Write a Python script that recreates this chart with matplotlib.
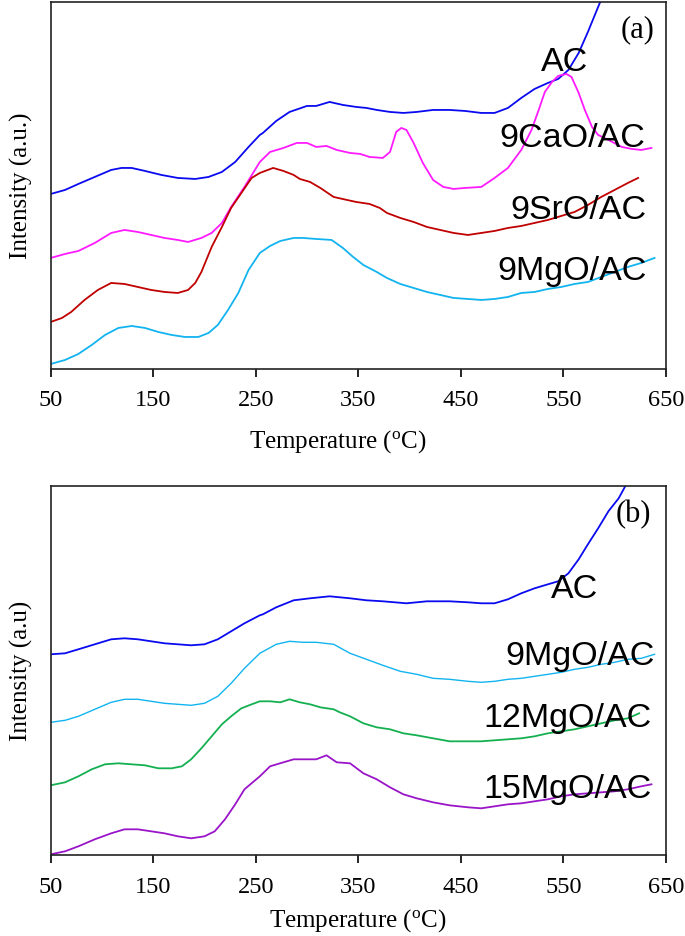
import matplotlib
matplotlib.use("Agg")
import matplotlib.pyplot as plt

# ---- panel (a) data: temperature (C) vs intensity (a.u., offset traces) ----
t_ac_a = [50, 64, 77, 93, 109, 119, 129, 142, 158, 174, 191, 204, 217, 230, 243, 254,
          257, 270, 283, 300, 309, 322, 335, 348, 358, 368, 381, 394, 407, 423, 439, 454,
          470, 483, 496, 509, 522, 535, 545, 555, 565, 574, 586, 590]
y_ac_a = [175, 179, 185, 192, 199, 201, 201, 198, 194, 191, 190, 192, 197, 207, 222, 234,
          236, 248, 257, 263, 263, 267, 264, 262, 261, 259, 257, 256, 257, 259, 259, 258,
          256, 256, 261, 271, 280, 286, 290, 299, 316, 337, 367, 380]

t_cao_a = [50, 64, 77, 93, 109, 122, 135, 148, 161, 174, 184, 197, 207, 217, 226, 239, 254,
           264, 277, 290, 300, 309, 319, 329, 342, 352, 361, 374, 381, 387, 392, 397, 404,
           413, 423, 433, 443, 454, 470, 483, 496, 509, 519, 526, 532, 539, 545, 553, 558,
           565, 571, 578, 584, 594, 607, 617, 626, 636]
y_cao_a = [111, 115, 118, 126, 136, 139, 137, 134, 131, 129, 127, 131, 136, 146, 162, 182, 207,
           217, 221, 226, 226, 222, 223, 219, 216, 215, 212, 211, 217, 237, 241, 239, 226,
           206, 189, 182, 180, 181, 182, 191, 201, 219, 239, 259, 277, 287, 293, 295, 292,
           276, 259, 242, 234, 229, 222, 220, 219, 221]

t_sro_a = [50, 61, 70, 83, 96, 109, 122, 135, 148, 161, 174, 184, 191, 197, 207, 217, 226,
           236, 246, 254, 267, 277, 287, 293, 303, 313, 326, 339, 348, 361, 371, 378, 391,
           404, 417, 430, 443, 457, 470, 483, 496, 509, 522, 535, 548, 561, 574, 587, 600,
           613, 623]
y_sro_a = [47, 51, 57, 69, 79, 86, 85, 82, 79, 77, 76, 79, 86, 97, 122, 142, 161,
           176, 191, 196, 201, 198, 194, 190, 187, 181, 172, 169, 167, 165, 161, 156, 151,
           147, 142, 139, 136, 134, 136, 138, 141, 143, 146, 149, 153, 157, 164, 172, 179,
           186, 191]

t_mgo_a = [50, 64, 77, 90, 103, 116, 129, 142, 155, 168, 181, 194, 204, 213, 223, 233, 243,
           254, 264, 274, 287, 296, 309, 324, 335, 345, 355, 368, 378, 391, 404, 417, 430,
           443, 457, 470, 483, 496, 509, 522, 535, 548, 561, 574, 587, 600, 613, 626, 639]
y_mgo_a = [5, 9, 15, 24, 34, 41, 43, 41, 37, 34, 32, 32, 36, 44, 59, 76, 99,
           116, 123, 128, 131, 131, 130, 129, 121, 112, 104, 97, 91, 85, 81, 77, 74,
           71, 70, 69, 70, 72, 76, 77, 80, 82, 85, 87, 92, 97, 102, 106, 111]

# ---- panel (b) data ----
t_ac_b = [50, 64, 77, 93, 109, 122, 135, 148, 161, 174, 187, 200, 213, 226, 239, 254,
          257, 270, 287, 303, 322, 342, 358, 374, 397, 417, 439, 457, 470, 483, 496, 509,
          522, 535, 545, 555, 565, 574, 584, 594, 604, 612]
y_ac_b = [201, 202, 206, 211, 216, 217, 216, 214, 212, 211, 210, 211, 216, 224, 232, 240,
          241, 248, 255, 257, 259, 257, 255, 254, 252, 254, 254, 253, 252, 252, 256, 262,
          267, 271, 274, 282, 296, 311, 327, 344, 357, 372]

t_9mg_b = [50, 64, 77, 93, 109, 122, 135, 148, 161, 174, 187, 200, 213, 226, 239, 254,
           270, 283, 296, 309, 326, 342, 358, 374, 391, 407, 423, 439, 457, 470, 483, 496,
           509, 522, 535, 548, 561, 574, 587, 600, 613, 626, 639]
y_9mg_b = [133, 135, 139, 146, 153, 156, 156, 154, 152, 151, 150, 152, 159, 172, 187, 202,
           211, 214, 213, 213, 211, 202, 196, 190, 184, 181, 177, 176, 174, 173, 174, 176,
           177, 179, 181, 183, 186, 188, 191, 193, 196, 197, 201]

t_12mg_b = [50, 64, 77, 90, 103, 116, 129, 142, 155, 168, 178, 187, 197, 207, 217, 226,
            236, 246, 254, 264, 274, 283, 293, 303, 313, 326, 332, 342, 355, 368, 381, 394,
            407, 423, 439, 457, 470, 483, 496, 509, 522, 535, 548, 561, 574, 587, 600, 613, 624]
y_12mg_b = [70, 73, 79, 86, 91, 92, 91, 90, 87, 87, 89, 96, 107, 119, 131, 139,
            147, 151, 154, 154, 153, 156, 153, 151, 148, 146, 143, 139, 132, 128, 126, 122,
            120, 117, 114, 114, 114, 115, 116, 117, 119, 122, 124, 126, 129, 132, 135, 137, 142]

t_15mg_b = [50, 64, 77, 93, 109, 122, 135, 148, 161, 174, 187, 200, 210, 220, 230, 239,
            254, 264, 277, 287, 300, 309, 319, 329, 342, 355, 368, 381, 394, 407, 423, 439,
            457, 470, 483, 496, 509, 522, 535, 548, 561, 574, 587, 600, 613, 626, 636]
y_15mg_b = [1, 4, 9, 16, 22, 26, 26, 24, 22, 19, 17, 19, 24, 36, 51, 66,
            79, 89, 93, 96, 96, 96, 100, 93, 92, 82, 76, 68, 61, 57, 53, 50,
            48, 47, 49, 51, 52, 54, 56, 59, 61, 62, 63, 64, 66, 69, 71]

xticks = [50, 150, 250, 350, 450, 550, 650]

plt.rcParams['font.family'] = ['Liberation Serif', 'DejaVu Serif']

fig = plt.figure(figsize=(6.85, 9.36), dpi=100)
ax_a = fig.add_axes([0.074, 0.6058, 0.898, 0.3916])
ax_b = fig.add_axes([0.074, 0.0862, 0.898, 0.3949])

sans = 'Liberation Sans'

ax_a.plot(t_ac_a, y_ac_a, color='#0a0af0', lw=1.3)
ax_a.plot(t_cao_a, y_cao_a, color='#ff1aff', lw=1.3)
ax_a.plot(t_sro_a, y_sro_a, color='#c00000', lw=1.3)
ax_a.plot(t_mgo_a, y_mgo_a, color='#12b4f0', lw=1.3)

ax_b.plot(t_ac_b, y_ac_b, color='#0a0af0', lw=1.3)
ax_b.plot(t_9mg_b, y_9mg_b, color='#12b4f0', lw=1.0)
ax_b.plot(t_12mg_b, y_12mg_b, color='#14b050', lw=1.3)
ax_b.plot(t_15mg_b, y_15mg_b, color='#9a14c8', lw=1.3)

for ax, top, ylab, lpad in [(ax_a, 366.5, 'Intensity (a.u.)', 12.3),
                            (ax_b, 369.6, 'Intensity (a.u)', 7.0)]:
    ax.set_xlim(50, 650)
    ax.set_ylim(0, top)
    ax.set_xticks(xticks)
    ax.set_yticks([])
    ax.tick_params(axis='x', direction='out', length=6, width=1.2, labelsize=17.5, pad=9.5)
    for s in ax.spines.values():
        s.set_linewidth(1.2)
        s.set_color('#222222')
    ax.set_xlabel('Temperature ($\\mathregular{^o}$C)', fontsize=18, labelpad=lpad)
    ax.set_ylabel(ylab, fontsize=18)
    ax.yaxis.set_label_coords(-0.029, 0.5)

# panel (a) x label sits a little left of centre in the original
ax_a.xaxis.label.set_verticalalignment('top')
ax_a.xaxis.set_label_coords(0.467, -(440 - 369 - 12) / 366.5)

# curve labels, panel (a)
ax_a.text(0.954, 0.925, '(a)', transform=ax_a.transAxes, fontsize=22, ha='center', va='center')
ax_a.text(0.836, 0.835, 'AC', transform=ax_a.transAxes, fontsize=24.5, family=sans, ha='center', va='center')
ax_a.text(0.966, 0.628, '9CaO/AC', transform=ax_a.transAxes, fontsize=24.5, family=sans, ha='right', va='center')
ax_a.text(0.969, 0.431, '9SrO/AC', transform=ax_a.transAxes, fontsize=24.5, family=sans, ha='right', va='center')
ax_a.text(0.969, 0.267, '9MgO/AC', transform=ax_a.transAxes, fontsize=24.5, family=sans, ha='right', va='center')

# curve labels, panel (b)
ax_b.text(0.948, 0.923, '(b)', transform=ax_b.transAxes, fontsize=22, ha='center', va='center')
ax_b.text(0.852, 0.720, 'AC', transform=ax_b.transAxes, fontsize=24.5, family=sans, ha='center', va='center')
ax_b.text(0.982, 0.539, '9MgO/AC', transform=ax_b.transAxes, fontsize=24.5, family=sans, ha='right', va='center')
ax_b.text(0.977, 0.369, '12MgO/AC', transform=ax_b.transAxes, fontsize=24.5, family=sans, ha='right', va='center')
ax_b.text(0.977, 0.177, '15MgO/AC', transform=ax_b.transAxes, fontsize=24.5, family=sans, ha='right', va='center')

fig.savefig('out.png', dpi=100)
